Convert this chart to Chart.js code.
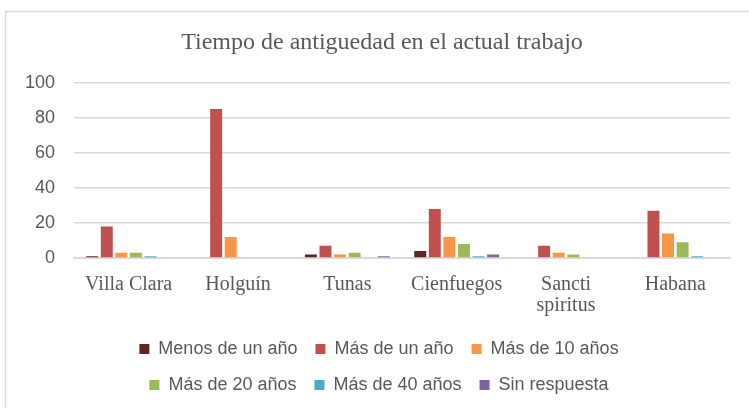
<!DOCTYPE html>
<html>
<head>
<meta charset="utf-8">
<script src="https://cdn.jsdelivr.net/npm/chart.js@4/dist/chart.umd.min.js"></script>
<style>
  html, body { margin: 0; padding: 0; background: #ffffff; }
  #wrap { width: 749px; height: 408px; position: relative; }
</style>
</head>
<body>
<div id="wrap"><canvas id="c" width="749" height="408"></canvas></div>
<script>
const chartTitle = "Tiempo de antiguedad en el actual trabajo";
const categories = ["Villa Clara", "Holguín", "Tunas", "Cienfuegos", ["Sancti", "spiritus"], "Habana"];
const seriesNames = ["Menos de un año", "Más de un año", "Más de 10 años", "Más de 20 años", "Más de 40 años", "Sin respuesta"];
const menosDeUnAno = [1, 0, 2, 4, 0, 0];
const masDeUnAno   = [18, 85, 7, 28, 7, 27];
const masDe10      = [3, 12, 2, 12, 3, 14];
const masDe20      = [3, 0, 3, 8, 2, 9];
const masDe40      = [1, 0, 0, 1, 0, 1];
const sinRespuesta = [0, 0, 1, 2, 0, 0];
const yTicks = [0, 20, 40, 60, 80, 100];
const seriesColors = ["#632523", "#c0504d", "#f79646", "#9bbb59", "#4bacc6", "#8064a2"];

const seriesValues = [menosDeUnAno, masDeUnAno, masDe10, masDe20, masDe40, sinRespuesta];

const frame = {
  id: 'frame',
  beforeDraw(chart) {
    const ctx = chart.ctx;
    ctx.save();
    ctx.fillStyle = '#ffffff';
    ctx.fillRect(0, 0, chart.width, chart.height);
    ctx.strokeStyle = '#d9d9d9';
    ctx.lineWidth = 1.5;
    ctx.strokeRect(5.5, 11.5, 900, 600);
    ctx.restore();
  }
};

function recenter(box, cx) {
  if (!box) return;
  const w = box.right - box.left;
  box.left = cx - w / 2;
  box.right = box.left + w;
}

const boxShift = {
  id: 'boxShift',
  afterLayout(chart) {
    recenter(chart.legend, 379);
    recenter(chart.titleBlock, 382);
  }
};

new Chart(document.getElementById('c'), {
  type: 'bar',
  data: {
    labels: categories,
    datasets: seriesNames.map((name, i) => ({
      label: name,
      data: seriesValues[i],
      backgroundColor: seriesColors[i],
      borderWidth: 0,
      categoryPercentage: 0.8,
      barPercentage: 0.82
    }))
  },
  options: {
    responsive: false,
    animation: false,
    devicePixelRatio: 1,
    layout: { padding: { left: 0, right: 19, top: 0, bottom: 4 } },
    plugins: {
      title: {
        display: true,
        text: chartTitle,
        color: '#595959',
        font: { family: 'Liberation Serif', size: 24, weight: 'normal' },
        padding: { top: 28, bottom: 26 }
      },
      legend: {
        position: 'bottom',
        fullSize: false,
        labels: {
          color: '#595959',
          font: { family: 'Liberation Sans', size: 18 },
          boxWidth: 10,
          boxHeight: 10,
          padding: 18
        }
      },
      tooltip: { enabled: false }
    },
    scales: {
      x: {
        grid: { display: false },
        border: { display: true, color: '#d9d9d9', width: 2 },
        ticks: {
          color: '#595959',
          font: { family: 'Liberation Serif', size: 20, lineHeight: 1.05 },
          padding: 8,
          maxRotation: 0,
          autoSkip: false
        },
        afterFit(scale) { scale.height = 64; }
      },
      y: {
        min: 0,
        max: 100,
        afterBuildTicks(scale) { scale.ticks = yTicks.map(v => ({ value: v })); },
        grid: { color: '#d9d9d9', lineWidth: 1.5, drawTicks: false },
        border: { display: false },
        ticks: {
          color: '#595959',
          font: { family: 'Liberation Sans', size: 18 },
          padding: 19
        },
        afterFit(scale) { scale.width = 74; }
      }
    }
  },
  plugins: [frame, boxShift]
});
</script>
</body>
</html>
